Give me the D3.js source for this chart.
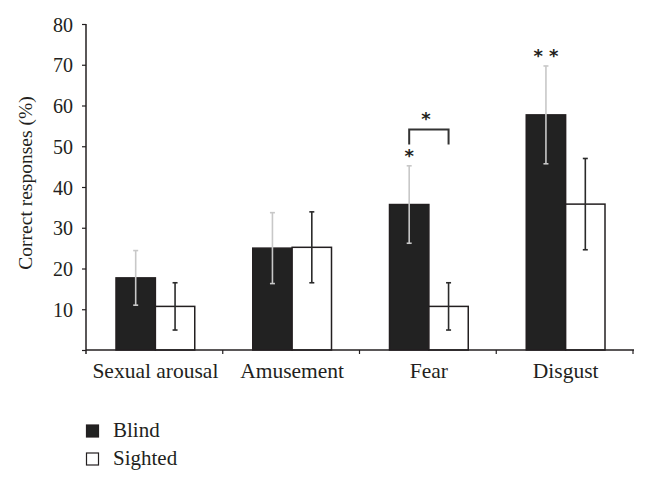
<!DOCTYPE html>
<html><head><meta charset="utf-8">
<script src="https://cdn.jsdelivr.net/npm/d3@7"></script>
<style>
html,body{margin:0;padding:0;background:#fff;}
svg text{font-family:"Liberation Serif","DejaVu Serif",serif;fill:#231f20;}
</style></head>
<body><svg id="c" width="647" height="484"></svg>
<script>
const categories = ["Sexual arousal","Amusement","Fear","Disgust"];
const series = ["Blind","Sighted"];
const blind = [17.7, 25.0, 35.7, 57.7];
const blindErr = [6.7, 8.7, 9.5, 12.0];
const sighted = [10.7, 25.2, 10.7, 35.8];
const sightedErr = [5.8, 8.7, 5.8, 11.2];
const yTicks = [10,20,30,40,50,60,70,80];
const marks = [
  {cat:"Fear", text:"*", series:"Blind"},
  {cat:"Disgust", text:"* *", series:"Blind"}
];

const svg = d3.select("#c");
const ink = "#231f20";
const x0 = d3.scaleBand().domain(categories).range([86,633]).paddingInner(0).paddingOuter(0);
const x1 = d3.scaleBand().domain(series).range([30, x0.bandwidth()-28]).padding(0);
const y = d3.scaleLinear().domain([0,80]).range([350,24]);

// bars
const g = svg.append("g");
const data = categories.map((c,i)=>({cat:c, vals:[
  {s:"Blind", v:blind[i], e:blindErr[i]},
  {s:"Sighted", v:sighted[i], e:sightedErr[i]}]}));
const cg = g.selectAll("g.cat").data(data).join("g")
  .attr("transform", d=>`translate(${x0(d.cat)},0)`);
cg.selectAll("rect").data(d=>d.vals).join("rect")
  .attr("x", d=>x1(d.s)).attr("width", x1.bandwidth())
  .attr("y", d=>y(d.v)).attr("height", d=>y(0)-y(d.v))
  .attr("fill", d=>d.s==="Blind" ? "#222222" : "#ffffff")
  .attr("stroke", ink).attr("stroke-width", 1.5);
// error bars
const eb = cg.selectAll("g.err").data(d=>d.vals).join("g")
  .attr("transform", d=>`translate(${x1(d.s)+x1.bandwidth()/2},0)`);
eb.append("line").attr("x1",0).attr("x2",0)
  .attr("y1", d=>y(d.v+d.e)).attr("y2", d=>y(d.v-d.e))
  .attr("stroke", d=>d.s==="Blind" ? "#c8c8c8" : "#2a2a2a").attr("stroke-width", 1.6);
eb.selectAll("line.cap").data(d=>[d.v+d.e, d.v-d.e].map(v=>({v, s:d.s}))).join("line")
  .attr("class","cap").attr("x1",-2.5).attr("x2",2.5)
  .attr("y1", d=>y(d.v)).attr("y2", d=>y(d.v))
  .attr("stroke", d=>d.s==="Blind" ? "#c8c8c8" : "#2a2a2a").attr("stroke-width", 1.6);

// axes
const yAxis = d3.axisLeft(y).tickValues([0].concat(yTicks)).tickSize(4).tickFormat(d=>d===0?"":d);
const ya = svg.append("g").attr("transform","translate(86,0)").call(yAxis);
ya.select(".domain").remove();
ya.append("line").attr("x1",0).attr("x2",0).attr("y1",y(80)).attr("y2",y(0)+4).attr("stroke",ink).attr("stroke-width",1.5);
ya.selectAll(".tick line").attr("stroke",ink).attr("stroke-width",1.2);
ya.selectAll(".tick text").attr("x",-13).attr("dy","0.36em")
  .style("font-size","20px").style("font-family","'Liberation Serif',serif").attr("fill",ink);

svg.append("line").attr("x1",86).attr("x2",634).attr("y1",y(0)).attr("y2",y(0))
  .attr("stroke",ink).attr("stroke-width",1.5);
const bounds = categories.map(c=>x0(c)+x0.bandwidth());
svg.selectAll("line.xt").data(bounds).join("line").attr("class","xt")
  .attr("x1",d=>d).attr("x2",d=>d).attr("y1",y(0)).attr("y2",y(0)+4)
  .attr("stroke",ink).attr("stroke-width",1.2);
svg.selectAll("text.xl").data(categories).join("text").attr("class","xl")
  .attr("x", d=>x0(d)+x0.bandwidth()/2+1).attr("y", 378)
  .attr("text-anchor","middle").style("font-size","21.5px").text(d=>d);

// y title
svg.append("text").attr("transform","translate(32,183) rotate(-90)")
  .attr("text-anchor","middle").style("font-size","19.5px").text("Correct responses (%)");

// significance
marks.forEach(m=>{
  const i = categories.indexOf(m.cat);
  const cx = x0(m.cat)+x1(m.series)+x1.bandwidth()/2;
  svg.append("text").attr("x",cx).attr("y", y(blind[i]+blindErr[i])-4)
    .attr("text-anchor","middle").style("font-family","'DejaVu Sans',sans-serif").style("font-size","18px").style("font-weight","bold").attr("fill","#333").text(m.text);
});
// bracket Fear blind vs sighted
{
  const c = "Fear";
  const xa = x0(c)+x1("Blind")+x1.bandwidth()/2;
  const xb = x0(c)+x1("Sighted")+x1.bandwidth()/2;
  const top = y(54.1), bot = y(50.4);
  svg.append("path").attr("d",`M${xa},${bot}V${top}H${xb}V${bot}`)
    .attr("fill","none").attr("stroke","#333").attr("stroke-width",2);
  svg.append("text").attr("x",(xa+xb)/2-3).attr("y",top-5)
    .attr("text-anchor","middle").style("font-family","'DejaVu Sans',sans-serif").style("font-size","18px").style("font-weight","bold").attr("fill","#333").text("*");
}

// legend
const lg = svg.append("g");
series.forEach((s,k)=>{
  const yy = 425 + k*28;
  lg.append("rect").attr("x",86.5).attr("y",yy).attr("width",12).attr("height",12)
    .attr("fill", s==="Blind" ? "#222" : "#fff").attr("stroke",ink).attr("stroke-width",1.2);
  lg.append("text").attr("x",113).attr("y",yy+12).style("font-size","21px").text(s);
});
</script></body></html>
